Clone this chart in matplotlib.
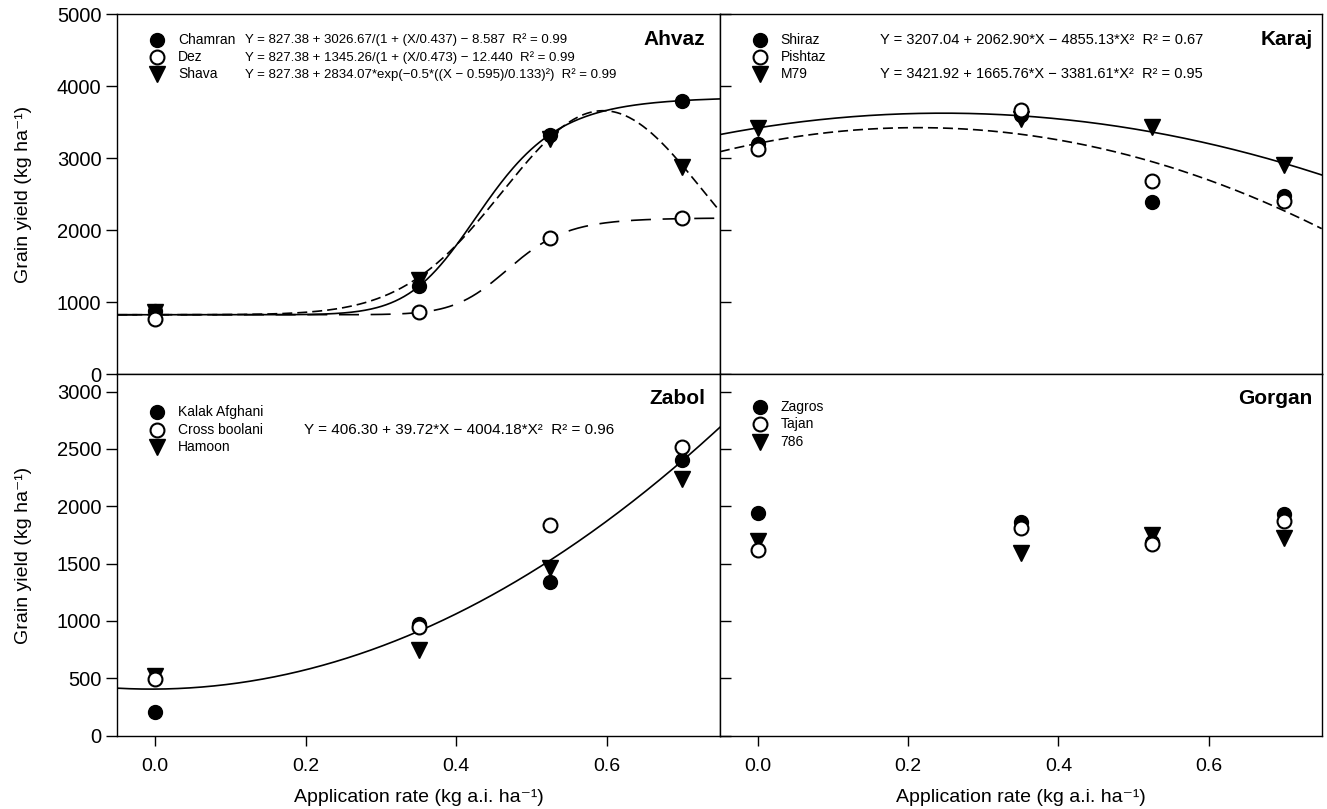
import matplotlib.pyplot as plt
import numpy as np

plt.rcParams['font.family'] = ['Liberation Sans', 'DejaVu Sans']

rates = [0.0, 0.35, 0.525, 0.70]

# Ahvaz
chamran = [880, 1220, 3330, 3800]
dez = [770, 860, 1890, 2170]
shava = [870, 1310, 3270, 2880]
# Karaj
shiraz = [3200, 3600, 2400, 2480]
pishtaz = [3130, 3670, 2680, 2410]
m79 = [3420, 3540, 3430, 2910]
# Zabol
kalak = [210, 970, 1340, 2400]
cross = [490, 950, 1840, 2520]
hamoon = [520, 750, 1460, 2240]
# Gorgan
zagros = [1940, 1860, 1690, 1930]
tajan = [1620, 1810, 1670, 1870]
v786 = [1700, 1590, 1750, 1720]

# fitted coefficients (as printed on the chart)
chamran_fit = [827.38, 3026.67, 0.437, -8.587]
dez_fit = [827.38, 1345.26, 0.473, -12.440]
shava_fit = [827.38, 2834.07, 0.595, 0.133]
shiraz_fit = [3207.04, 2062.90, -4855.13]
m79_fit = [3421.92, 1665.76, -3381.61]
cross_fit = [406.30, 39.72, 4004.18]

chamran_eq = 'Y = 827.38 + 3026.67/(1 + (X/0.437) \u2212 8.587  R\u00b2 = 0.99'
dez_eq = 'Y = 827.38 + 1345.26/(1 + (X/0.473) \u2212 12.440  R\u00b2 = 0.99'
shava_eq = 'Y = 827.38 + 2834.07*exp(\u22120.5*((X \u2212 0.595)/0.133)\u00b2)  R\u00b2 = 0.99'
shiraz_eq = 'Y = 3207.04 + 2062.90*X \u2212 4855.13*X\u00b2  R\u00b2 = 0.67'
m79_eq = 'Y = 3421.92 + 1665.76*X \u2212 3381.61*X\u00b2  R\u00b2 = 0.95'
cross_eq = 'Y = 406.30 + 39.72*X \u2212 4004.18*X\u00b2  R\u00b2 = 0.96'


def logistic(x, p):
    xx = np.clip(x, 1e-9, None)
    return p[0] + p[1] / (1 + (xx / p[2]) ** p[3])


def gauss(x, p):
    return p[0] + p[1] * np.exp(-0.5 * ((x - p[2]) / p[3]) ** 2)


def quad(x, p):
    return p[0] + p[1] * x + p[2] * x ** 2


xs = np.linspace(-0.05, 0.75, 400)

fig = plt.figure(figsize=(13.27, 8.09), dpi=100)
L, R, M = 0.0884, 0.996, 0.5425
B, T, Y = 0.0906, 0.9823, 0.5373
ax1 = fig.add_axes([L, Y, M - L, T - Y])
ax2 = fig.add_axes([M, Y, R - M, T - Y])
ax3 = fig.add_axes([L, B, M - L, Y - B])
ax4 = fig.add_axes([M, B, R - M, Y - B])

ms = 10


def pts(ax, ys, kind):
    if kind == 'f':
        ax.plot(rates, ys, 'o', ms=ms, mfc='k', mec='k', zorder=5, clip_on=False)
    elif kind == 'o':
        ax.plot(rates, ys, 'o', ms=ms, mfc='white', mec='k', mew=1.5, zorder=6, clip_on=False)
    else:
        ax.plot(rates, ys, 'v', ms=11, mfc='k', mec='k', zorder=4, clip_on=False)


def legend_rows(ax, names, eqs, y0=0.929, xeq=0.212, eqsize=11):
    kinds = ['f', 'o', 't']
    for i, (nm, eq, k) in enumerate(zip(names, eqs, kinds)):
        yy = y0 - i * 0.048
        if k == 'f':
            ax.plot([0.066], [yy], 'o', ms=ms, mfc='k', mec='k', transform=ax.transAxes)
        elif k == 'o':
            ax.plot([0.066], [yy], 'o', ms=ms, mfc='white', mec='k', mew=1.5, transform=ax.transAxes)
        else:
            ax.plot([0.066], [yy], 'v', ms=11, mfc='k', mec='k', transform=ax.transAxes)
        ax.text(0.101, yy, nm, transform=ax.transAxes, va='center', fontsize=10)
        if eq:
            ax.text(xeq, yy, eq, transform=ax.transAxes, va='center', fontsize=eqsize)


# Ahvaz
ax1.plot(xs, logistic(xs, chamran_fit), color='k', lw=1.2)
ax1.plot(xs, logistic(xs, dez_fit), color='k', lw=1.2, dashes=(12, 7))
ax1.plot(xs, gauss(xs, shava_fit), color='k', lw=1.2, dashes=(6, 3))
pts(ax1, chamran, 'f')
pts(ax1, dez, 'o')
pts(ax1, shava, 't')
legend_rows(ax1, ['Chamran', 'Dez', 'Shava'], [chamran_eq, dez_eq, shava_eq],
            xeq=0.212, eqsize=9.5)
ax1.text(0.976, 0.929, 'Ahvaz', transform=ax1.transAxes, ha='right', va='center',
         fontsize=15, fontweight='bold')

# Karaj
ax2.plot(xs, quad(xs, m79_fit), color='k', lw=1.2)
ax2.plot(xs, quad(xs, shiraz_fit), color='k', lw=1.2, dashes=(6, 3))
pts(ax2, shiraz, 'f')
pts(ax2, pishtaz, 'o')
pts(ax2, m79, 't')
legend_rows(ax2, ['Shiraz', 'Pishtaz', 'M79'], [shiraz_eq, '', m79_eq],
            xeq=0.266, eqsize=10.5)
ax2.text(0.985, 0.929, 'Karaj', transform=ax2.transAxes, ha='right', va='center',
         fontsize=15, fontweight='bold')

# Zabol
ax3.plot(xs, quad(xs, cross_fit), color='k', lw=1.2)
pts(ax3, kalak, 'f')
pts(ax3, cross, 'o')
pts(ax3, hamoon, 't')
legend_rows(ax3, ['Kalak Afghani', 'Cross boolani', 'Hamoon'], ['', cross_eq, ''],
            y0=0.895, xeq=0.31, eqsize=11)
ax3.text(0.976, 0.932, 'Zabol', transform=ax3.transAxes, ha='right', va='center',
         fontsize=15, fontweight='bold')

# Gorgan
pts(ax4, zagros, 'f')
pts(ax4, tajan, 'o')
pts(ax4, v786, 't')
legend_rows(ax4, ['Zagros', 'Tajan', '786'], ['', '', ''], y0=0.91)
ax4.text(0.985, 0.932, 'Gorgan', transform=ax4.transAxes, ha='right', va='center',
         fontsize=15, fontweight='bold')

for ax in (ax1, ax2, ax3, ax4):
    ax.set_xlim(-0.05, 0.75)
    for s in ax.spines.values():
        s.set_linewidth(1.0)
for ax in (ax1, ax2):
    ax.set_ylim(0, 5000)
    ax.set_yticks([0, 1000, 2000, 3000, 4000, 5000])
    ax.tick_params(axis='x', bottom=False, labelbottom=False)
for ax in (ax3, ax4):
    ax.set_ylim(0, 3150)
    ax.set_yticks([0, 500, 1000, 1500, 2000, 2500, 3000])
    ax.set_xticks([0.0, 0.2, 0.4, 0.6])
    ax.set_xticklabels(['0.0', '0.2', '0.4', '0.6'])
    ax.tick_params(axis='x', length=7, width=1, labelsize=14, pad=9)
    ax.set_xlabel('Application rate (kg a.i. ha\u207b\u00b9)', fontsize=14, labelpad=10)
for ax in (ax1, ax3):
    ax.tick_params(axis='y', length=8, width=1, labelsize=14.5)
    ax.set_ylabel('Grain yield (kg ha\u207b\u00b9)', fontsize=14, labelpad=18)
for ax in (ax2, ax4):
    ax.tick_params(axis='y', direction='in', length=8, width=1, labelleft=False)

fig.savefig('out.png', dpi=100)
